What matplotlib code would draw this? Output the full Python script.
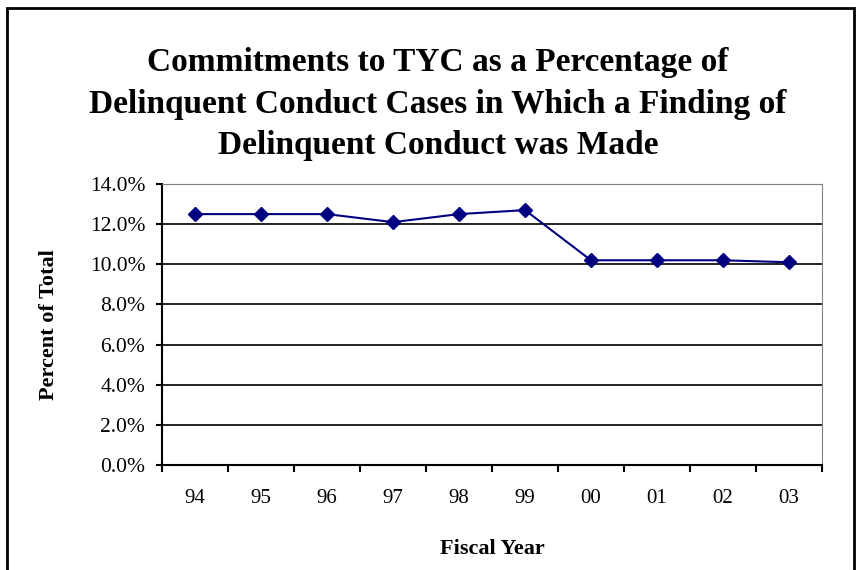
import matplotlib.pyplot as plt
from matplotlib.patches import Rectangle
from matplotlib.ticker import FuncFormatter

years = ['94', '95', '96', '97', '98', '99', '00', '01', '02', '03']
pct = [12.5, 12.5, 12.5, 12.1, 12.5, 12.7, 10.2, 10.2, 10.2, 10.1]

plt.rcParams['font.family'] = 'Liberation Serif'

fig = plt.figure(figsize=(8.57, 5.70), dpi=100)
ax = fig.add_axes([162 / 857, 1 - 465 / 570, 660 / 857, 281 / 570])

# outer border of the chart (bottom edge runs off the image)
fig.patches.append(Rectangle((7 / 857, -0.1), 847 / 857, 1.1 - 8 / 570,
                             transform=fig.transFigure, fill=False,
                             edgecolor='black', linewidth=2))

x = list(range(len(years)))
ax.plot(x, pct, color='#000080', linewidth=1.5, marker='D', markersize=7.5)

ax.set_xlim(-0.5, len(years) - 0.5)
ax.set_ylim(0, 14)
ax.set_yticks(range(0, 15, 2))
ax.yaxis.set_major_formatter(FuncFormatter(lambda v, p: '%.1f%%' % v))
ax.set_xticks([i - 0.5 for i in range(len(years) + 1)])
ax.set_xticklabels([])
ax.set_xticks(x, minor=True)
ax.set_xticklabels(years, minor=True)
ax.tick_params(axis='x', which='minor', length=0, pad=17.5, labelsize=15)
ax.tick_params(axis='x', which='major', direction='out', length=5, width=1.5)
ax.tick_params(axis='y', direction='out', length=4, width=1.5, labelsize=15.5, pad=8)

for v in range(2, 14, 2):
    ax.axhline(v, color='black', linewidth=1.2, zorder=0)

ax.spines['left'].set_linewidth(1.5)
ax.spines['bottom'].set_linewidth(1.5)
ax.spines['top'].set_color('#808080')
ax.spines['right'].set_color('#808080')

ax.set_ylabel('Percent of Total', fontsize=16, fontweight='bold', labelpad=22)
ax.set_xlabel('Fiscal Year', fontsize=16, fontweight='bold', labelpad=22)

fig.text(438 / 857, 1 - 104 / 570,
         'Commitments to TYC as a Percentage of\n'
         'Delinquent Conduct Cases in Which a Finding of\n'
         'Delinquent Conduct was Made',
         ha='center', va='center', fontsize=24, fontweight='bold',
         linespacing=1.45)

fig.savefig('out.png', dpi=100)
